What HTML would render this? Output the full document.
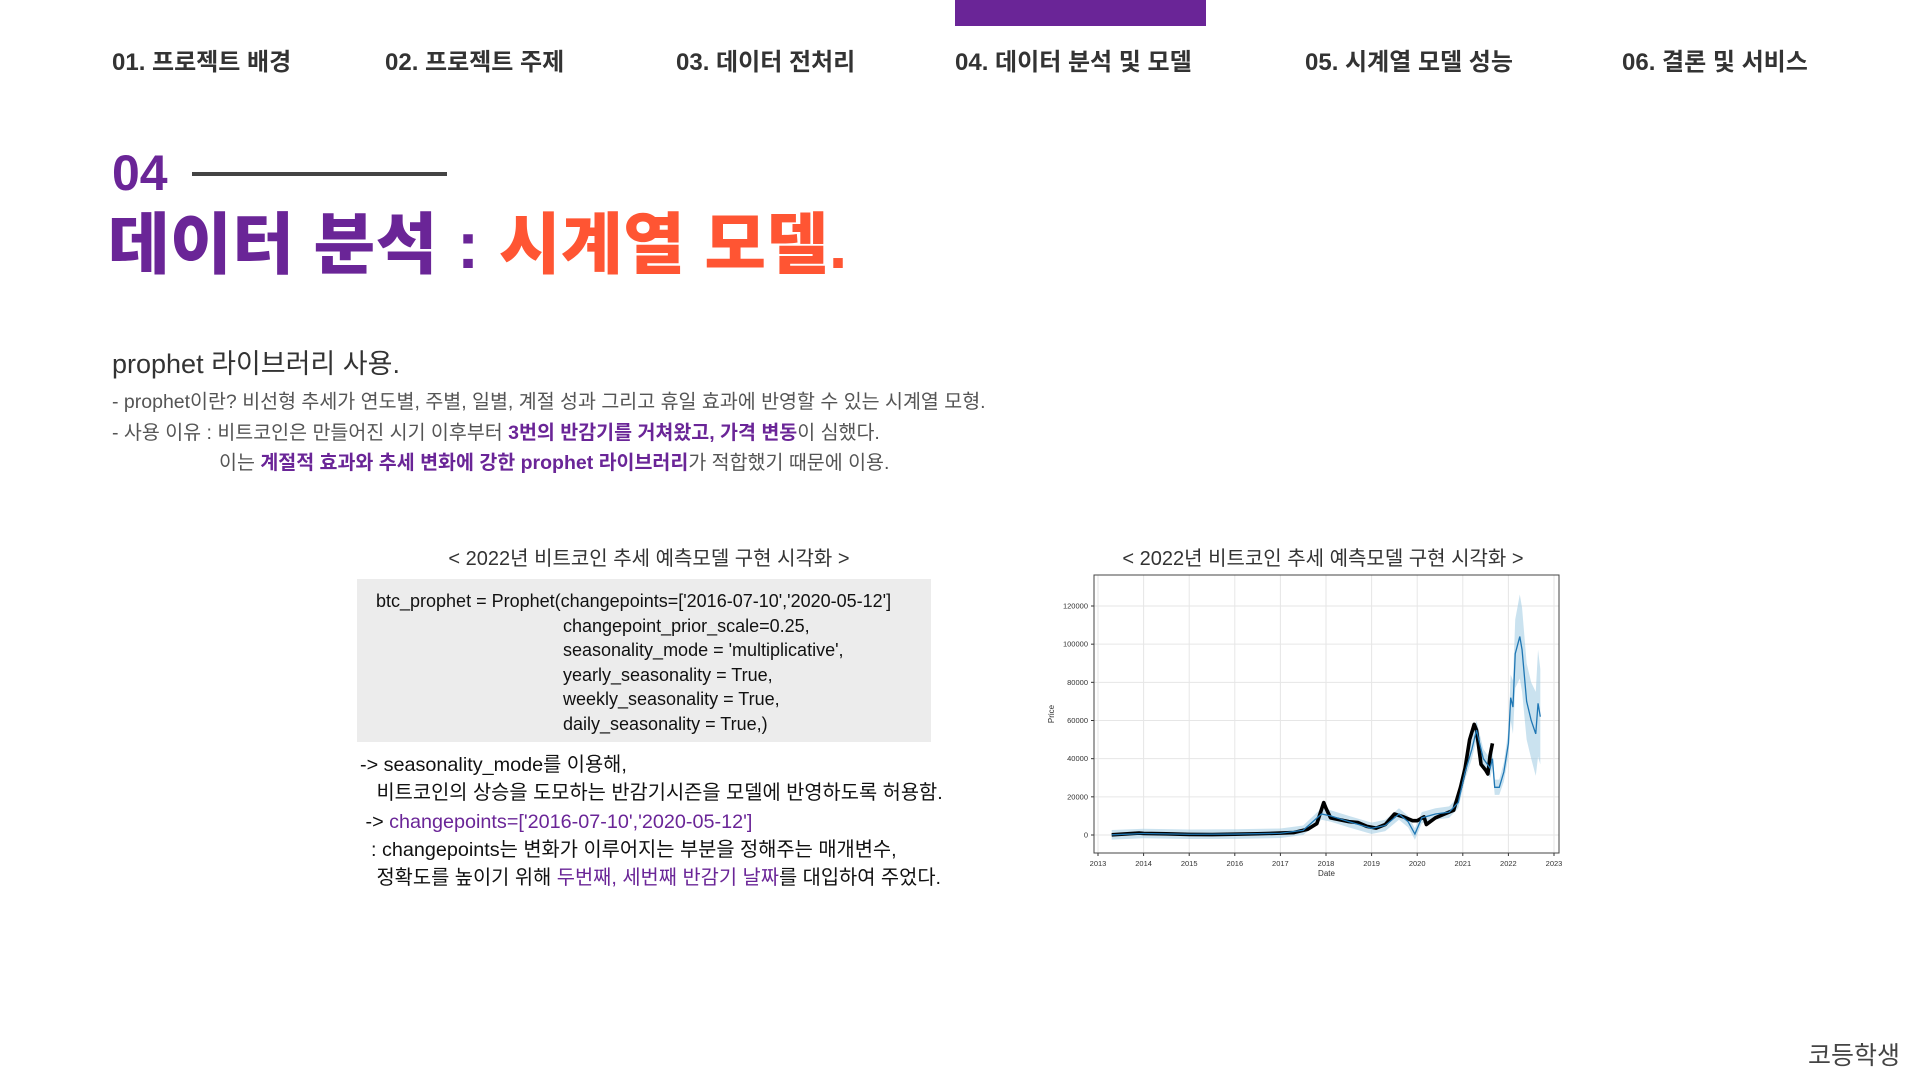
<!DOCTYPE html>
<html><head><meta charset="utf-8">
<style>
body{margin:0;width:1920px;height:1080px;background:#fff;position:relative;overflow:hidden;font-family:"Liberation Sans","Noto Sans CJK KR",sans-serif;color:#333}
.a{position:absolute;white-space:nowrap}
.nav{top:42px;font-size:24px;font-weight:bold;color:#333}
.p{color:#6a2597;font-weight:bold}
.code{font-size:18px;color:#111;line-height:24.5px}
</style></head><body>
<div class="a" style="left:955px;top:0;width:251px;height:26px;background:#6a2597"></div>
<div class="a nav" style="left:112px">01. 프로젝트 배경</div>
<div class="a nav" style="left:385px">02. 프로젝트 주제</div>
<div class="a nav" style="left:676px">03. 데이터 전처리</div>
<div class="a nav" style="left:955px">04. 데이터 분석 및 모델</div>
<div class="a nav" style="left:1305px">05. 시계열 모델 성능</div>
<div class="a nav" style="left:1622px">06. 결론 및 서비스</div>

<div class="a" style="left:112px;top:144px;font-size:50px;font-weight:900;color:#6a2597">04</div>
<div class="a" style="left:192px;top:172px;width:255px;height:4px;background:#444"></div>
<div class="a" style="left:108px;top:191px;font-size:67px;font-weight:900;letter-spacing:0.5px"><span style="color:#6a2597">데이터 분석 :</span> <span style="color:#ff5533">시계열 모델.</span></div>

<div class="a" style="left:112px;top:342px;font-size:27px;color:#333">prophet 라이브러리 사용.</div>
<div class="a" style="left:112px;top:385px;font-size:19.5px;color:#555">- prophet이란? 비선형 추세가 연도별, 주별, 일별, 계절 성과 그리고 휴일 효과에 반영할 수 있는 시계열 모형.</div>
<div class="a" style="left:112px;top:416px;font-size:19.5px;color:#555">- 사용 이유 : 비트코인은 만들어진 시기 이후부터 <span class="p">3번의 반감기를 거쳐왔고, 가격 변동</span>이 심했다.</div>
<div class="a" style="left:219px;top:446px;font-size:19.5px;color:#555">이는 <span class="p">계절적 효과와 추세 변화에 강한 prophet 라이브러리</span>가 적합했기 때문에 이용.</div>

<div class="a" style="left:649px;top:542px;transform:translateX(-50%);font-size:20px;color:#333">&lt; 2022년 비트코인 추세 예측모델 구현 시각화 &gt;</div>
<div class="a" style="left:357px;top:579px;width:574px;height:163px;background:#ececec"></div>
<div class="a code" style="left:376px;top:589px">btc_prophet = Prophet(changepoints=['2016-07-10','2020-05-12']<br>
<span style="padding-left:187px">changepoint_prior_scale=0.25,</span><br>
<span style="padding-left:187px">seasonality_mode = 'multiplicative',</span><br>
<span style="padding-left:187px">yearly_seasonality = True,</span><br>
<span style="padding-left:187px">weekly_seasonality = True,</span><br>
<span style="padding-left:187px">daily_seasonality = True,)</span></div>
<div class="a" style="left:360px;top:751px;font-size:19.8px;line-height:28.3px;color:#111">-&gt; seasonality_mode를 이용해,<br>&nbsp;&nbsp;&nbsp;비트코인의 상승을 도모하는 반감기시즌을 모델에 반영하도록 허용함.<br>&nbsp;-&gt; <span style="color:#6a2597">changepoints=['2016-07-10','2020-05-12']</span><br>&nbsp;&nbsp;: changepoints는 변화가 이루어지는 부분을 정해주는 매개변수,<br>&nbsp;&nbsp;&nbsp;정확도를 높이기 위해 <span style="color:#6a2597">두번째, 세번째 반감기 날짜</span>를 대입하여 주었다.</div>

<div class="a" style="left:1323px;top:542px;transform:translateX(-50%);font-size:20px;color:#333">&lt; 2022년 비트코인 추세 예측모델 구현 시각화 &gt;</div>
<svg class="a" id="chart" style="left:1040px;top:560px" width="560" height="340"></svg>

<div class="a" style="left:1808px;top:1036px;font-size:25px;color:#444">코등학생</div>

<script>
const xTicks=[2013,2014,2015,2016,2017,2018,2019,2020,2021,2022,2023];
const yTicks=[0,20000,40000,60000,80000,100000,120000];
const actualDates=[2013.3,2013.9,2014.0,2014.5,2015.0,2015.5,2016.0,2016.5,2017.0,2017.3,2017.6,2017.8,2017.95,2018.0,2018.1,2018.3,2018.5,2018.7,2018.9,2019.1,2019.3,2019.5,2019.7,2019.9,2020.0,2020.15,2020.2,2020.4,2020.6,2020.8,2020.95,2021.05,2021.15,2021.25,2021.3,2021.4,2021.5,2021.55,2021.6,2021.65];
const actualPrices=[100,1000,800,600,300,250,400,650,1000,1300,3000,6000,17000,14000,9000,8000,7000,6500,4500,3600,5500,11000,9500,7500,7500,9500,5500,9000,11000,13000,25000,35000,50000,58000,55000,37000,34000,32000,42000,48000];
const fcDates=[2013.3,2014.0,2015.0,2016.0,2017.0,2017.5,2017.9,2018.1,2018.5,2019.0,2019.3,2019.6,2019.8,2019.95,2020.1,2020.4,2020.7,2020.9,2021.05,2021.2,2021.3,2021.45,2021.6,2021.65,2021.7,2021.8,2021.9,2022.0,2022.05,2022.1,2022.15,2022.25,2022.3,2022.4,2022.5,2022.6,2022.65,2022.7];
const fcValues=[100,800,400,500,900,2500,11000,10000,7000,3500,5000,11000,7000,500,9000,11000,12000,17000,33000,45000,55000,40000,35000,40000,25000,25000,33000,48000,72000,67000,95000,104000,97000,70000,60000,53000,69000,62000];
const fcHalfBand=[2500,2500,2500,2500,2500,2500,3000,3000,3000,3000,3000,3000,3000,3000,3000,3000,3000,3000,4000,5000,5000,5000,5000,5000,4000,4000,5000,7000,12000,14000,18000,22000,22000,20000,20000,22000,28000,25000];
const NS='http://www.w3.org/2000/svg';
const svg=document.getElementById('chart');
const L=54,R=519,T=15,B=293;
const xs=v=>58+(v-2013)*(514-58)/10;
const ys=v=>275-v*(229/120000);
function mk(tag,attrs,parent){const e=document.createElementNS(NS,tag);for(const k in attrs)e.setAttribute(k,attrs[k]);(parent||svg).appendChild(e);return e;}
xTicks.forEach(t=>{const g=mk('line',{x1:xs(t),x2:xs(t),y1:T,y2:B,stroke:'#e6e6e6','stroke-width':1});

mk('line',{x1:xs(t),x2:xs(t),y1:B,y2:B+3,stroke:'#333'});
const tx=mk('text',{x:xs(t),y:B+13,'font-size':7.5,'text-anchor':'middle',fill:'#333'});tx.textContent=t;
});
yTicks.forEach(t=>{const g=mk('line',{x1:L,x2:R,y1:ys(t),y2:ys(t),stroke:'#e6e6e6','stroke-width':1});

mk('line',{x1:L-3,x2:L,y1:ys(t),y2:ys(t),stroke:'#333'});
const tx=mk('text',{x:L-6,y:ys(t)+2.5,'font-size':7.5,'text-anchor':'end',fill:'#333'});tx.textContent=t;
});
let up=fcDates.map((d,i)=>xs(d)+','+ys(fcValues[i]+fcHalfBand[i]));
let lo=fcDates.map((d,i)=>xs(d)+','+ys(fcValues[i]-fcHalfBand[i])).reverse();
const band=mk('polygon',{points:up.concat(lo).join(' '),fill:'#9ecae1','fill-opacity':0.55});

const act=mk('polyline',{points:actualDates.map((d,i)=>xs(d)+','+ys(actualPrices[i])).join(' '),fill:'none',stroke:'#000','stroke-width':3.6,'stroke-linejoin':'round'});

const fc=mk('polyline',{points:fcDates.map((d,i)=>xs(d)+','+ys(fcValues[i])).join(' '),fill:'none',stroke:'#1f77b4','stroke-width':1.3});

const fr=mk('rect',{x:L,y:T,width:R-L,height:B-T,fill:'none',stroke:'#444','stroke-width':1});

const xl=mk('text',{x:(L+R)/2,y:B+23,'font-size':8,'text-anchor':'middle',fill:'#333'});xl.textContent='Date';

const yl=mk('text',{x:14,y:(T+B)/2,'font-size':8,'text-anchor':'middle',fill:'#333',transform:`rotate(-90 14 ${(T+B)/2})`});yl.textContent='Price';

</script>
</body></html>
